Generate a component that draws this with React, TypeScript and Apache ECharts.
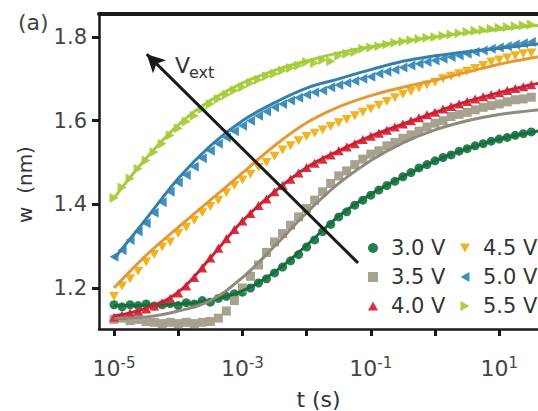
import React, { useEffect, useRef } from "react";
import * as echarts from "echarts";

// log10(t) positions of the measured points
const E = [-5, -4.875, -4.75, -4.625, -4.5, -4.375, -4.25, -4.125, -4, -3.875, -3.75, -3.625, -3.5, -3.375, -3.25, -3.125, -3, -2.875, -2.75, -2.625, -2.5, -2.375, -2.25, -2.125, -2, -1.875, -1.75, -1.625, -1.5, -1.375, -1.25, -1.125, -1, -0.875, -0.75, -0.625, -0.5, -0.375, -0.25, -0.125, 0, 0.125, 0.25, 0.375, 0.5, 0.625, 0.75, 0.875, 1, 1.125, 1.25, 1.375, 1.5];

const v30 = [1.16, 1.155, 1.16, 1.158, 1.162, 1.157, 1.16, 1.163, 1.158, 1.165, 1.162, 1.17, 1.166, 1.175, 1.18, 1.186, 1.19, 1.2, 1.212, 1.222, 1.236, 1.25, 1.265, 1.28, 1.298, 1.315, 1.335, 1.352, 1.37, 1.382, 1.398, 1.41, 1.422, 1.434, 1.445, 1.455, 1.466, 1.476, 1.487, 1.495, 1.504, 1.512, 1.518, 1.527, 1.533, 1.54, 1.545, 1.551, 1.556, 1.56, 1.565, 1.569, 1.573];
const v35 = [1.125, 1.128, 1.122, 1.125, 1.12, 1.118, 1.115, 1.118, 1.115, 1.118, 1.115, 1.118, 1.12, 1.128, 1.145, 1.17, 1.2, 1.228, 1.255, 1.285, 1.31, 1.33, 1.35, 1.37, 1.39, 1.41, 1.43, 1.45, 1.468, 1.48, 1.495, 1.508, 1.52, 1.528, 1.54, 1.548, 1.558, 1.566, 1.575, 1.585, 1.594, 1.6, 1.61, 1.615, 1.62, 1.626, 1.632, 1.636, 1.64, 1.645, 1.65, 1.652, 1.656];
const v40 = [1.13, 1.135, 1.14, 1.145, 1.15, 1.157, 1.165, 1.175, 1.188, 1.205, 1.225, 1.248, 1.272, 1.295, 1.318, 1.34, 1.36, 1.378, 1.397, 1.413, 1.43, 1.445, 1.46, 1.475, 1.488, 1.498, 1.508, 1.518, 1.528, 1.537, 1.545, 1.555, 1.563, 1.57, 1.577, 1.585, 1.592, 1.6, 1.607, 1.614, 1.62, 1.628, 1.634, 1.64, 1.646, 1.652, 1.657, 1.662, 1.667, 1.672, 1.677, 1.681, 1.686];
const v45 = [1.18, 1.205, 1.222, 1.24, 1.262, 1.28, 1.298, 1.31, 1.33, 1.345, 1.362, 1.38, 1.395, 1.41, 1.428, 1.445, 1.458, 1.472, 1.488, 1.5, 1.515, 1.53, 1.54, 1.552, 1.562, 1.57, 1.578, 1.586, 1.595, 1.603, 1.612, 1.62, 1.628, 1.637, 1.646, 1.655, 1.663, 1.67, 1.678, 1.685, 1.692, 1.7, 1.706, 1.712, 1.718, 1.725, 1.732, 1.74, 1.745, 1.75, 1.755, 1.76, 1.762];
const v50 = [1.275, 1.29, 1.315, 1.335, 1.355, 1.38, 1.405, 1.43, 1.452, 1.47, 1.49, 1.51, 1.528, 1.545, 1.56, 1.575, 1.588, 1.6, 1.612, 1.622, 1.632, 1.64, 1.648, 1.655, 1.662, 1.668, 1.672, 1.68, 1.685, 1.69, 1.695, 1.7, 1.705, 1.712, 1.717, 1.722, 1.727, 1.732, 1.736, 1.74, 1.744, 1.748, 1.752, 1.756, 1.76, 1.764, 1.768, 1.772, 1.775, 1.778, 1.782, 1.785, 1.788];
const v55 = [1.415, 1.44, 1.462, 1.485, 1.505, 1.525, 1.545, 1.565, 1.582, 1.598, 1.612, 1.628, 1.64, 1.652, 1.662, 1.672, 1.68, 1.69, 1.698, 1.706, 1.712, 1.72, 1.726, 1.732, 1.74, 1.738, 1.745, 1.742, 1.755, 1.76, 1.764, 1.772, 1.775, 1.778, 1.782, 1.786, 1.789, 1.792, 1.795, 1.798, 1.8, 1.803, 1.806, 1.809, 1.812, 1.815, 1.817, 1.82, 1.822, 1.824, 1.826, 1.828, 1.83];

// fitted curves, log10(t) positions
const FIT_E = [-5, -4.5, -4, -3.5, -3, -2.5, -2, -1.5, -1, -0.5, 0, 0.5, 1, 1.5, 1.65];
const f30 = [1.158, 1.159, 1.162, 1.171, 1.193, 1.238, 1.302, 1.372, 1.424, 1.466, 1.504, 1.533, 1.556, 1.572, 1.577];
const f35 = [1.128, 1.131, 1.145, 1.17, 1.225, 1.3, 1.38, 1.45, 1.505, 1.547, 1.578, 1.6, 1.615, 1.624, 1.626];
const f40 = [1.133, 1.152, 1.19, 1.272, 1.36, 1.43, 1.488, 1.528, 1.563, 1.592, 1.62, 1.646, 1.667, 1.686, 1.69];
const f45 = [1.2, 1.278, 1.345, 1.41, 1.475, 1.54, 1.595, 1.633, 1.66, 1.68, 1.697, 1.716, 1.735, 1.75, 1.753];
const f50 = [1.27, 1.365, 1.462, 1.54, 1.6, 1.643, 1.678, 1.7, 1.722, 1.742, 1.755, 1.765, 1.773, 1.782, 1.784];
const f55 = [1.415, 1.51, 1.59, 1.648, 1.69, 1.72, 1.743, 1.762, 1.777, 1.79, 1.8, 1.81, 1.818, 1.826, 1.828];

const NAMES = ["3.0 V", "3.5 V", "4.0 V", "4.5 V", "5.0 V", "5.5 V"];
const X_TICK_EXP = [-5, -4, -3, -2, -1, 0, 1];
const X_LABEL_EXP = [-5, -3, -1, 1];
const Y_TICKS = [1.2, 1.4, 1.6, 1.8];

// arrow (V_ext direction) in data coords: [log10 t, w]
const ARROW_FROM = [-1.2, 1.26];
const ARROW_TO = [-4.49, 1.759];

const FONT = "DejaVu Sans";

const TRI_UP = "path://M1,0 L2,1.8 L0,1.8 Z";
const TRI_DOWN = "path://M0,0 L2,0 L1,1.8 Z";
const TRI_LEFT = "path://M1.8,0 L1.8,2 L0,1 Z";
const TRI_RIGHT = "path://M0,0 L1.8,1 L0,2 Z";

const pts = (ex: number[], vals: number[]) => ex.map((e, i) => [Math.pow(10, e), vals[i]]);

export default function App() {
  const ref = useRef<HTMLDivElement>(null);
  useEffect(() => {
    if (!ref.current) return;
    const chart = echarts.init(ref.current, undefined, { renderer: "svg" });
    const markers = [v30, v35, v40, v45, v50, v55];
    const fits = [f30, f35, f40, f45, f50, f55];
    const mColors = ["#238250", "#a7a190", "#d9303f", "#f0b322", "#3f8fbd", "#a9d040"];
    const lColors = ["#1b6b3f", "#8f8a7c", "#cc2036", "#e39a35", "#3480ac", "#a4cc3c"];
    const symbols = ["circle", "rect", TRI_UP, TRI_DOWN, TRI_LEFT, TRI_RIGHT];
    const sizes = [9, 9, 10, 10, 10, 10];

    const series: any[] = [];
    markers.forEach((m, i) => {
      series.push({
        name: NAMES[i],
        type: "scatter",
        data: pts(E, m),
        symbol: symbols[i],
        symbolKeepAspect: true,
        symbolSize: sizes[i],
        itemStyle: { color: mColors[i], opacity: 1 },
        z: 2,
      });
    });
    fits.forEach((f, i) => {
      series.push({
        name: "fit " + NAMES[i],
        type: "line",
        data: pts(FIT_E, f),
        smooth: 0.4,
        showSymbol: false,
        symbol: "none",
        lineStyle: { color: lColors[i], width: 3 },
        z: 3,
      });
    });
    series.push({
      name: "arrow",
      type: "line",
      data: [],
      markLine: {
        silent: true,
        symbol: ["none", "arrow"],
        symbolSize: [14, 18],
        label: { show: false },
        lineStyle: { color: "#1a1a1a", width: 3, type: "solid" },
        data: [[
          { coord: [Math.pow(10, ARROW_FROM[0]), ARROW_FROM[1]] },
          { coord: [Math.pow(10, ARROW_TO[0]), ARROW_TO[1]] },
        ]],
      },
      z: 5,
    });

    const legendBase = {
      orient: "vertical",
      itemWidth: 10,
      itemHeight: 10,
      itemGap: 5,
      textStyle: { fontSize: 21, lineHeight: 24, color: "#333", fontFamily: FONT, padding: [0, 0, 0, 8] },
      selectedMode: false,
    };

    chart.setOption({
      animation: false,
      backgroundColor: "#ffffff",
      title: {
        text: "(a)",
        left: 13,
        top: 6,
        textStyle: { fontSize: 22, fontWeight: "normal", color: "#444", fontFamily: FONT },
      },
      grid: { left: 99, top: 14, right: 0, bottom: 82, containLabel: false, outerBoundsMode: "none" },
      legend: [
        { ...legendBase, data: NAMES.slice(0, 3), left: 363, top: 231 },
        { ...legendBase, data: NAMES.slice(3, 6), left: 455, top: 231 },
      ],
      xAxis: [
        {
          type: "log",
          logBase: 10,
          min: Math.pow(10, -5.234),
          max: Math.pow(10, 1.604),
          name: "t (s)",
          nameLocation: "middle",
          nameGap: 59,
          nameMoveOverlap: false,
          nameTextStyle: { fontSize: 22, color: "#333", fontFamily: FONT },
          axisLine: { show: true, lineStyle: { color: "#1a1a1a", width: 2.5 } },
          axisTick: {
            show: true,
            inside: false,
            length: 7,
            lineStyle: { color: "#1a1a1a", width: 3 },
            customValues: X_TICK_EXP.map((e) => Math.pow(10, e)),
          },
          axisLabel: {
            show: true,
            margin: 26,
            customValues: X_LABEL_EXP.map((e) => Math.pow(10, e)),
            formatter: (v: number) => "{b|10}{s|" + Math.round(Math.log10(v)) + "}",
            rich: {
              b: { fontSize: 22, fontFamily: FONT, color: "#444", verticalAlign: "bottom", lineHeight: 24 },
              s: { fontSize: 15, fontFamily: FONT, color: "#444", verticalAlign: "top", lineHeight: 15, padding: [0, 0, 18, 0] },
            },
          },
          splitLine: { show: false },
        },
        {
          type: "value",
          position: "top",
          min: 0,
          max: 1,
          axisLine: { show: true, lineStyle: { color: "#1a1a1a", width: 4 } },
          axisTick: { show: false },
          axisLabel: { show: false },
          splitLine: { show: false },
        },
      ],
      yAxis: {
        type: "value",
        min: 1.102,
        max: 1.855,
        name: "w  (nm)",
        nameLocation: "middle",
        nameRotate: 90,
        nameGap: 64,
        nameMoveOverlap: false,
        nameTextStyle: { fontSize: 20, color: "#333", fontFamily: FONT, padding: [0, 26, 0, 0] },
        axisLine: { show: true, lineStyle: { color: "#1a1a1a", width: 2.5 } },
        axisTick: {
          show: true,
          inside: false,
          length: 7,
          lineStyle: { color: "#1a1a1a", width: 3 },
          customValues: Y_TICKS,
        },
        axisLabel: {
          margin: 12,
          customValues: Y_TICKS,
          formatter: (v: number) => v.toFixed(1),
          fontSize: 21,
          color: "#444",
          fontFamily: FONT,
        },
        splitLine: { show: false },
      },
      graphic: [
        {
          type: "text",
          left: 175,
          top: 54,
          style: { text: "V", fill: "#333", font: "22px 'DejaVu Sans'" },
          z: 10,
        },
        {
          type: "text",
          left: 189,
          top: 64,
          style: { text: "ext", fill: "#333", font: "16px 'DejaVu Sans'" },
          z: 10,
        },
      ],
      series,
    });
    return () => chart.dispose();
  }, []);
  return (
    <div
      ref={ref}
      style={{ position: "fixed", left: 0, top: 0, width: 538, height: 411, background: "#fff" }}
    />
  );
}
